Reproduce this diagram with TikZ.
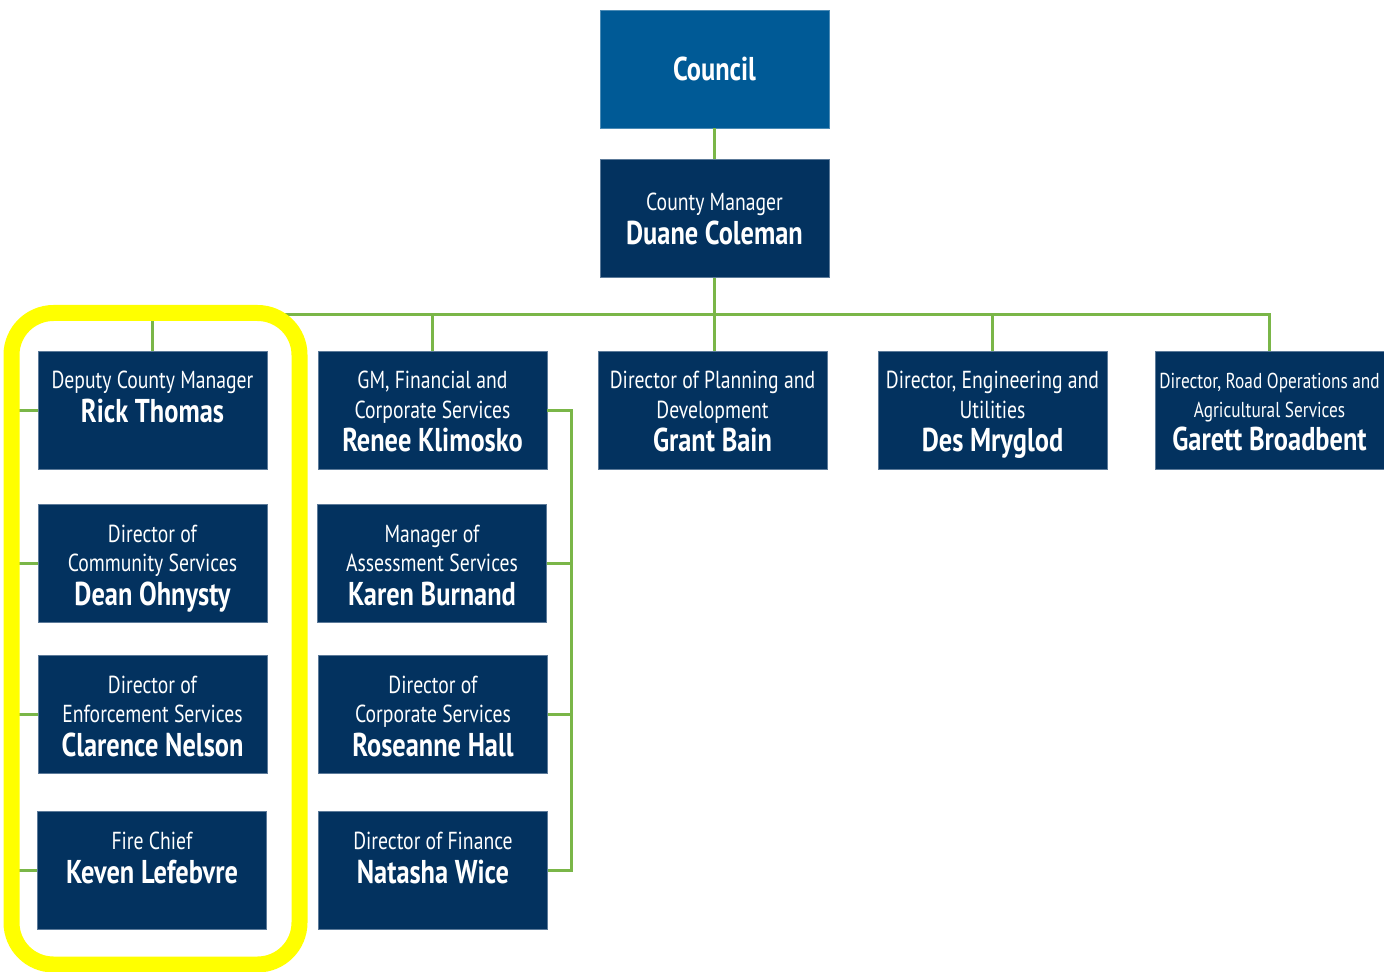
\documentclass[tikz,border=0pt]{standalone}
\usepackage{fontspec}
\setmainfont[FakeStretch=0.8]{PT Sans}
\usetikzlibrary{calc}
\definecolor{cnblue}{HTML}{005A96}
\definecolor{navy}{HTML}{03325F}
\definecolor{edge}{HTML}{5C7A99}
\definecolor{linkgreen}{HTML}{7AB648}
\definecolor{hilite}{HTML}{FFFF00}

\newcommand{\rolefont}{\fontsize{12.3}{14.5}\selectfont}
\newcommand{\namefont}{\fontsize{16.5}{17}\selectfont\bfseries}
\newcommand{\orgtext}[2]{\parbox[c][48pt][t]{114pt}{\centering\rolefont\rule{0pt}{13.5pt}#1\par\namefont #2\par}}

\begin{document}
\begin{tikzpicture}[x=0.5pt, y=-0.5pt,
  orgbox/.style={fill=navy, draw=edge, line width=0.4pt, text=white,
    minimum width=114.5pt, minimum height=59pt, inner sep=0pt},
  link/.style={linkgreen, line width=1.5pt}]

\useasboundingbox (0,0) rectangle (1384,972);

% --- Top ---
\node[orgbox, fill=cnblue, draw=cnblue!70!white] (council) at (714.5,69)
  {\namefont Council};
\node[orgbox] (mgr) at (714.5,218.5)
  {\parbox{114pt}{\centering\rolefont County Manager\par\namefont Duane Coleman\par}};

% --- First row ---
\node[orgbox] (dep) at (152.5,410) {\orgtext{Deputy County Manager}{Rick Thomas}};
\node[orgbox] (gm) at (432.5,410) {\orgtext{GM, Financial and\\Corporate Services}{Renee Klimosko}};
\node[orgbox] (plan) at (712.5,410) {\orgtext{Director of Planning and\\Development}{Grant Bain}};
\node[orgbox] (eng) at (992.5,410) {\orgtext{Director, Engineering and\\Utilities}{Des Mryglod}};
\node[orgbox] (road) at (1269.5,410)
  {\orgtext{\fontsize{10.8}{14}\selectfont Director, Road Operations and\\Agricultural Services}{Garett Broadbent}};

% --- Left column ---
\node[orgbox] (comm) at (152.5,563) {\orgtext{Director of\\Community Services}{Dean Ohnysty}};
\node[orgbox] (enf) at (152.5,714) {\orgtext{Director of\\Enforcement Services}{Clarence Nelson}};
\node[orgbox] (fire) at (152,870) {\orgtext{Fire Chief}{Keven Lefebvre}};

% --- Second column ---
\node[orgbox] (assess) at (432,563) {\orgtext{Manager of\\Assessment Services}{Karen Burnand}};
\node[orgbox] (corp) at (433,714) {\orgtext{Director of\\Corporate Services}{Roseanne Hall}};
\node[orgbox] (fin) at (433,870) {\orgtext{Director of Finance}{Natasha Wice}};

% --- Connectors ---
\coordinate (bus) at (714.5,315);
\draw[link] (council) -- (mgr);
\draw[link] (mgr) -- (bus);
\draw[link] (dep.north) |- (bus) -| (road.north);
\draw[link] (bus) -- (bus |- plan.north);
\draw[link] (gm.north) -- (gm.north |- bus);
\draw[link] (eng.north) -- (eng.north |- bus);

\draw[link] (dep.west) -- ++(-30,0) coordinate (lbus) |- (fire.west);
\draw[link] (comm.west) -- (comm.west -| lbus);
\draw[link] (enf.west) -- (enf.west -| lbus);

\draw[link] (gm.east) -- ++(24,0) coordinate (rbus) |- (fin.east);
\draw[link] (assess.east) -- (assess.east -| rbus);
\draw[link] (corp.east) -- (corp.east -| rbus);

% --- Highlight ---
\draw[hilite, line width=8pt, rounded corners=21pt] (11.5,313) rectangle (299.5,964.5);

\end{tikzpicture}
\end{document}
